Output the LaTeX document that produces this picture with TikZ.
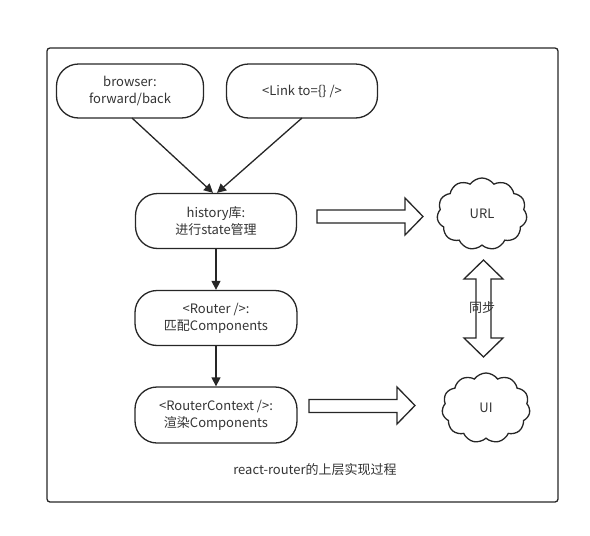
\documentclass[tikz,border=0pt]{standalone}
\usepackage{fontspec}
\setmainfont{Noto Sans CJK SC}
\usetikzlibrary{shapes.symbols,arrows.meta}
\begin{document}
\begin{tikzpicture}[x=1pt,y=-1pt,
  every node/.style={font=\fontsize{13}{17}\selectfont, text=black!80},
  proc/.style={draw=black!85, line width=1.3pt, rounded corners=22pt, align=center, inner sep=0pt},
  flow/.style={draw=black!85, line width=1.3pt, -{Triangle[length=9pt,width=9pt]}},
  blk/.style={draw=black!85, line width=1.3pt, fill=white, line join=miter},
  cloudnode/.style={cloud, cloud puffs=11, cloud puff arc=110, aspect=1.25, draw=black!85, line width=1.3pt, inner sep=0pt}]
\useasboundingbox (0,0) rectangle (590,536);
\draw[line width=1.3pt, draw=black!85, rounded corners=3pt] (47,48) rectangle (558,502);
\node[proc, minimum width=147pt, minimum height=54pt] (browser) at (130,91) {browser:\\forward/back};
\node[proc, minimum width=151pt, minimum height=54pt] (link) at (302,91) {<Link to=\{\} />};
\node[proc, minimum width=161pt, minimum height=55pt] (history) at (216,221) {history库:\\进行state管理};
\node[proc, minimum width=162pt, minimum height=55pt] (router) at (216,318) {<Router />:\\匹配Components};
\node[proc, minimum width=162pt, minimum height=56pt] (ctx) at (216,415) {<RouterContext />:\\渲染Components};
\node (caption) at (315,470) {react-router的上层实现过程};
\coordinate (bstart) at (132,118);
\coordinate (lstart) at (302,118);
\draw[flow] (bstart) -- ([xshift=-3pt]history.north);
\draw[flow] (lstart) -- ([xshift=1pt]history.north);
\draw[flow] (history) -- (router);
\draw[flow] (router) -- (ctx);
\node[cloudnode, minimum width=90pt, minimum height=72pt] (url) at (482,214) {URL};
\node[cloudnode, minimum width=88pt, minimum height=70pt] (ui) at (486,408) {UI};
% block arrow 1
\draw[blk] (317,210) -- (405,210) -- (405,198) -- (423,216.5) -- (405,235) -- (405,223) -- (317,223) -- cycle;
% block arrow 2
\draw[blk] (309,399.5) -- (397,399.5) -- (397,387) -- (415,405.5) -- (397,424) -- (397,412.5) -- (309,412.5) -- cycle;
% double arrow
\draw[blk] (483.5,260) -- (503,279) -- (491,279) -- (491,338) -- (503,338) -- (483.5,357) -- (464,338) -- (476,338) -- (476,279) -- (464,279) -- cycle;
\node (sync) at (482,308) {同步};
\end{tikzpicture}
\end{document}
